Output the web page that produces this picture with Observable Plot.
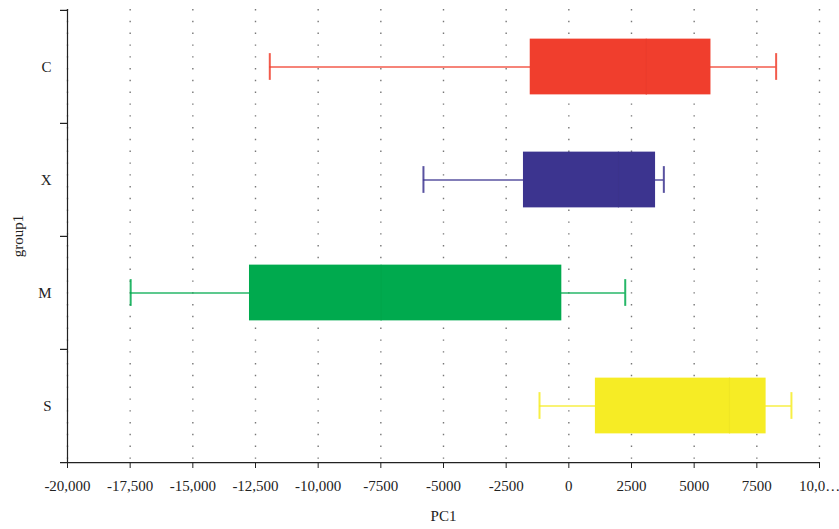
<!DOCTYPE html>
<html>
<head>
<meta charset="utf-8">
<script src="https://cdn.jsdelivr.net/npm/d3@7"></script>
<script src="https://cdn.jsdelivr.net/npm/@observablehq/plot@0.6"></script>
<style>
  html, body { margin: 0; padding: 0; background: #fff; }
  #chart svg { display: block; }
</style>
</head>
<body>
<div id="chart"></div>
<script>
// Data
const groups = ["C", "X", "M", "S"];
const mins    = [-11930, -5800, -17480, -1170];
const q1s     = [-1540, -1810, -12740, 1060];
const medians = [3090, 1980, -7490, 6410];
const q3s     = [5670, 3460, -280, 7870];
const maxs    = [8270, 3790, 2250, 8880];
const colors  = ["#f03e2d", "#3c348f", "#00aa4e", "#f6ec25"];
const tickValues = [-20000, -17500, -15000, -12500, -10000, -7500, -5000, -2500, 0, 2500, 5000, 7500, 10000];
const tickLabels = ["-20,000", "-17,500", "-15,000", "-12,500", "-10,000", "-7500", "-5000", "-2500", "0", "2500", "5000", "7500", "10,0…"];

const rows = groups.map((g, i) => ({
  group: g, min: mins[i], q1: q1s[i], median: medians[i], q3: q3s[i], max: maxs[i], color: colors[i]
}));

const W = 839, H = 529, mT = 9, mB = 67, mL = 67, mR = 20;
const band = (H - mT - mB) / groups.length;
const boxInset = (band - 56) / 2;
const capInset = (band - 27) / 2;
const xMin = tickValues[0], xMax = tickValues[tickValues.length - 1];
const font = "'Liberation Serif', 'DejaVu Serif', serif";

const chart = Plot.plot({
  width: W, height: H,
  marginTop: mT, marginBottom: mB, marginLeft: mL, marginRight: mR,
  style: { fontFamily: font, fontSize: "15px", color: "#222", background: "#fff", overflow: "visible" },
  x: { domain: [xMin, xMax] },
  y: { domain: groups, padding: 0 },
  color: { type: "identity" },
  marks: [
    // dotted vertical grid
    Plot.ruleX(tickValues, { stroke: "#777", strokeWidth: 1.4, strokeDasharray: "1.4,10.4" }),
    // whiskers
    Plot.ruleY(rows, { y: "group", x1: "min", x2: "max", stroke: "color", strokeWidth: 1.6, strokeOpacity: 0.85 }),
    Plot.tickX(rows, { x: "min", y: "group", stroke: "color", strokeWidth: 2, strokeOpacity: 0.85, insetTop: capInset, insetBottom: capInset }),
    Plot.tickX(rows, { x: "max", y: "group", stroke: "color", strokeWidth: 2, strokeOpacity: 0.85, insetTop: capInset, insetBottom: capInset }),
    // boxes
    Plot.barX(rows, { y: "group", x1: "q1", x2: "q3", fill: "color", insetTop: boxInset, insetBottom: boxInset }),
    // medians
    Plot.tickX(rows, { x: "median", y: "group", stroke: d => d3.color(d.color).darker(0.07).formatHex(), strokeWidth: 1.2, insetTop: boxInset, insetBottom: boxInset }),
    // axis lines
    Plot.ruleX([xMin], { stroke: "#222", strokeWidth: 1.2 }),
    Plot.ruleY([groups[groups.length - 1]], { y: d => d, x1: xMin, x2: xMax, dy: band / 2, insetLeft: -7, stroke: "#222", strokeWidth: 1.2 }),
    // y ticks at band boundaries
    Plot.ruleY(groups, { y: d => d, x1: xMin, x2: xMin, dy: -band / 2, insetLeft: -7, stroke: "#222", strokeWidth: 1.2 }),
    // axes
    Plot.axisY({ tickSize: 0, tickPadding: 16, label: "group1", labelAnchor: "center", labelOffset: 55, fontSize: 15 }),
    Plot.axisX({ ticks: tickValues, tickFormat: (d, i) => tickLabels[tickValues.indexOf(d)], tickSize: 6, tickPadding: 12, stroke: "#222", label: "PC1", labelAnchor: "center", labelOffset: 58, labelArrow: "none", fontSize: 15 })
  ]
});
document.getElementById("chart").appendChild(chart);
</script>
</body>
</html>
